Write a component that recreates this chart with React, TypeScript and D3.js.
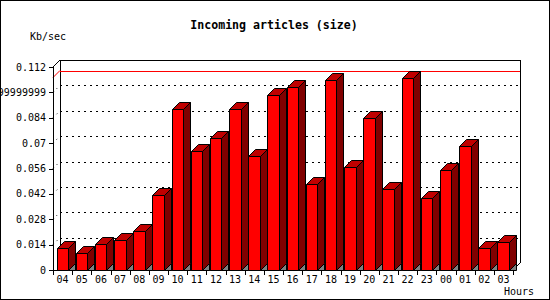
import React from "react";
import * as d3 from "d3";

const hours = ["04","05","06","07","08","09","10","11","12","13","14","15","16","17","18","19","20","21","22","23","00","01","02","03"];
const sizes = [0.0120,0.0095,0.0142,0.0165,0.0215,0.0412,0.0887,0.0658,0.0731,0.0891,0.0628,0.0963,0.1012,0.0474,0.1046,0.0571,0.0836,0.0445,0.1062,0.0395,0.0549,0.0682,0.0120,0.0156];
const tickValues = [0,0.014,0.028,0.042,0.056,0.07,0.084,0.098,0.112];
const tickLabels = ["0","0.014","0.028","0.042","0.056","0.07","0.084","0.0979999999999999","0.112"];

const W = 550, H = 300;
const D = 7;
const mono = "'DejaVu Sans Mono', 'Liberation Mono', monospace";

export default function App() {
  const x = d3.scaleBand<string>().domain(hours).range([53, 513]).padding(0);
  const y = d3.scaleLinear().domain([0, 0.112]).range([270, 67]);
  const bw = x.bandwidth();
  const y0 = y(0);
  const maxV = d3.max(sizes) as number;
  const yMax = y(maxV);

  return (
    <svg width={W} height={H} style={{ position: "absolute", left: 0, top: 0, background: "#fff" }} shapeRendering="crispEdges">
      <rect x={0.5} y={0.5} width={W - 1} height={H - 1} fill="#fff" stroke="#000" />
      <text x={274} y={29} textAnchor="middle" fontFamily={mono} fontWeight="bold" fontSize={11.6}>Incoming articles (size)</text>
      <text x={30} y={40} fontFamily={mono} fontSize={10}>Kb/sec</text>
      <text x={504} y={295} fontFamily={mono} fontSize={10}>Hours</text>

      {/* back plane */}
      <path d={`M${53 + D},${y0 - D}V${y(0.112) - D}H${513 + D}V${y0 - D}`} fill="none" stroke="#000" />
      {/* grid lines */}
      {tickValues.slice(1, -1).map((v, i) => (
        <g key={i}>
          <line x1={53 + D} x2={513 + D} y1={Math.round(y(v) - D) + 0.5} y2={Math.round(y(v) - D) + 0.5} stroke="#000" strokeDasharray="2,4" />
          <line x1={53} y1={y(v)} x2={53 + D} y2={y(v) - D} stroke="#000" strokeDasharray="1,4" shapeRendering="auto" />
        </g>
      ))}
      {/* max line */}
      <line x1={53 + D} x2={513 + D} y1={Math.round(yMax - D) + 0.5} y2={Math.round(yMax - D) + 0.5} stroke="#ff0000" />
      <line x1={53} y1={yMax} x2={53 + D} y2={yMax - D} stroke="#ff0000" shapeRendering="auto" />

      {/* front axes */}
      <line x1={53.5} x2={53.5} y1={y(0.112)} y2={y0} stroke="#000" />
      <line x1={53} y1={y(0.112)} x2={53 + D} y2={y(0.112) - D} stroke="#000" shapeRendering="auto" />
      <line x1={53} x2={513} y1={y0 + 0.5} y2={y0 + 0.5} stroke="#000" />
      <line x1={513} y1={y0} x2={513 + D} y2={y0 - D} stroke="#000" shapeRendering="auto" />
      {tickValues.map((v, i) => (
        <g key={i}>
          <line x1={49} x2={53} y1={Math.round(y(v)) + 0.5} y2={Math.round(y(v)) + 0.5} stroke="#000" />
          <text x={46} y={y(v) + 3.5} textAnchor="end" fontFamily={mono} fontSize={10}>{tickLabels[i]}</text>
        </g>
      ))}
      {hours.map((h, i) => (
        <g key={h + i}>
          <line x1={Math.round(x(h) as number) + 0.5} x2={Math.round(x(h) as number) + 0.5} y1={y0} y2={y0 + 5} stroke="#000" />
          <text x={(x(h) as number) + bw / 2} y={283} textAnchor="middle" fontFamily={mono} fontSize={10}>{h}</text>
        </g>
      ))}
      <line x1={513.5} x2={513.5} y1={y0} y2={y0 + 5} stroke="#000" />

      {/* bars */}
      <g stroke="#000" strokeWidth={1} shapeRendering="auto" strokeLinejoin="round">
        {hours.map((h, i) => {
          const xl = Math.round((x(h) as number) + 3.5) + 0.5;
          const xr = Math.round((x(h) as number) + 15) + 0.5;
          const yt = Math.round(y(sizes[i])) + 0.5;
          const yb = y0 + 0.5;
          return (
            <g key={"b" + i}>
              <path d={`M${xr},${yb}L${xr + D},${yb - D}V${yb}Z`} fill="#808080" />
              <path d={`M${xr},${yt}L${xr + D},${yt - D}V${yb - D}L${xr},${yb}Z`} fill="#800000" />
              <path d={`M${xl},${yt}L${xl + D},${yt - D}H${xr + D}L${xr},${yt}Z`} fill="#c00000" />
              <rect x={xl} y={yt} width={xr - xl} height={yb - yt} fill="#ff0000" />
            </g>
          );
        })}
      </g>
    </svg>
  );
}
